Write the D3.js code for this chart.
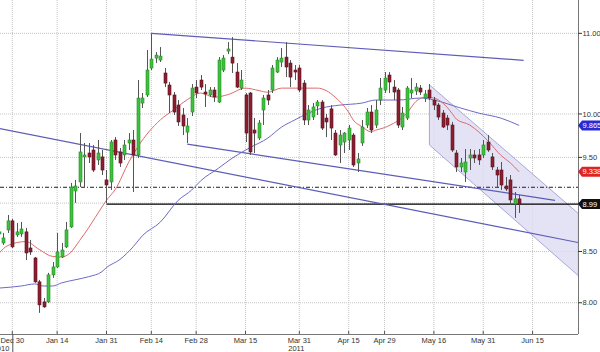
<!DOCTYPE html>
<html lang="en">
<head>
    <meta charset="utf-8">
    <script src="https://d3js.org/d3.v7.min.js"></script>
    <style>
        body { margin: 0; background: #fff; }
        text { font-family: "Liberation Sans", Arial, sans-serif; font-size: 7.5px; fill: #333; }
        .grid line { stroke: #c4c4c4; stroke-dasharray: 1,1; }
        .trend { stroke: #5c5cb8; stroke-width: 1.2; fill: none; }
    </style>
</head>
<body>
<svg width="600" height="352"></svg>
<script>
    // trading day index 0 = Dec 30 2010, first candle at -3
    var firstIdx = -3;
    var opens = [8.678, 8.586, 8.719, 8.813, 8.668, 8.678, 8.699, 8.535, 8.435, 8.20,
        8.008, 8.008, 8.268, 8.346, 8.445, 8.546, 8.75, 9.13, 9.228, 9.505,
        9.549, 9.583, 9.471, 9.505, 9.25, 9.228, 9.697, 9.561, 9.527, 9.663,
        9.697, 9.527, 10.13, 10.227, 10.558, 10.683, 10.658, 10.496, 10.348, 10.227,
        10.106, 9.988, 9.788, 10.023, 10.323, 10.409, 10.263, 10.227, 10.287, 10.142,
        10.533, 10.772, 10.695, 10.508, 10.311, 10.227, 10.251, 9.812, 9.72, 10.047,
        10.227, 10.287, 10.508, 10.633, 10.695, 10.62, 10.533, 10.558, 10.372, 9.929,
        9.964, 10.095, 10.142, 9.952, 10.06, 9.777, 9.64, 9.674, 9.697, 9.754,
        9.437, 9.663, 9.87, 10.023, 9.87, 10.166, 10.287, 10.471, 10.323, 10.287,
        9.847, 9.952, 10.251, 10.275, 10.311, 10.19, 10.287, 10.166, 10.106, 10.011,
        9.952, 9.87, 9.549, 9.393, 9.337, 9.493, 9.527, 9.527, 9.527, 9.674,
        9.505, 9.359, 9.359, 9.184, 9.25, 8.991, 9.045];
    var highs = [8.719, 8.688, 8.875, 8.833, 8.792, 8.802, 8.740, 8.617, 8.445, 8.219,
        8.046, 8.288, 8.395, 8.688, 8.586, 8.802, 9.217, 9.25, 9.777, 9.663,
        9.663, 9.64, 9.697, 9.583, 9.359, 9.697, 9.731, 9.606, 9.697, 9.777,
        9.812, 10.409, 10.251, 10.785, 11.00, 10.76, 10.823, 10.558, 10.385, 10.263,
        10.166, 10.071, 9.952, 10.36, 10.409, 10.471, 10.36, 10.323, 10.323, 10.695,
        10.721, 10.887, 10.951, 10.62, 10.533, 10.251, 10.263, 9.952, 9.929, 10.227,
        10.287, 10.596, 10.695, 10.81, 10.887, 10.658, 10.596, 10.596, 10.409, 10.106,
        10.13, 10.166, 10.166, 10.0, 10.106, 9.812, 9.812, 9.788, 9.87, 9.777,
        9.549, 9.929, 10.071, 10.106, 10.166, 10.434, 10.508, 10.508, 10.409, 10.311,
        10.083, 10.335, 10.434, 10.372, 10.348, 10.287, 10.36, 10.203, 10.13, 10.047,
        9.988, 9.906, 9.583, 9.493, 9.594, 9.594, 9.583, 9.594, 9.697, 9.754,
        9.549, 9.393, 9.448, 9.282, 9.304, 9.119, 9.087];
    var lows = [8.627, 8.566, 8.688, 8.535, 8.648, 8.648, 8.415, 8.465, 8.19, 7.905,
        7.952, 7.999, 8.239, 8.336, 8.435, 8.535, 8.74, 9.002, 9.173, 9.173,
        9.437, 9.337, 9.415, 9.304, 9.00, 9.141, 9.471, 9.393, 9.471, 9.583,
        9.119, 9.493, 10.07, 10.203, 10.533, 10.62, 10.633, 10.323, 10.011, 9.988,
        9.859, 9.754, 9.663, 9.976, 10.19, 10.287, 10.083, 10.203, 10.142, 10.13,
        10.508, 10.734, 10.496, 10.311, 10.287, 9.674, 9.527, 9.549, 9.697, 9.87,
        10.106, 10.251, 10.496, 10.571, 10.446, 10.323, 10.409, 10.263, 9.87, 9.87,
        9.929, 9.988, 9.812, 9.73, 9.697, 9.516, 9.437, 9.549, 9.583, 9.393,
        9.337, 9.629, 9.835, 9.777, 9.835, 10.106, 10.251, 10.251, 10.166, 9.835,
        9.812, 9.929, 10.19, 10.227, 10.227, 10.142, 10.166, 10.047, 9.929, 9.835,
        9.812, 9.561, 9.337, 9.337, 9.228, 9.359, 9.437, 9.415, 9.493, 9.561,
        9.359, 9.173, 9.141, 9.13, 8.98, 8.844, 8.896];
    var closes = [8.699, 8.637, 8.813, 8.546, 8.699, 8.729, 8.485, 8.495, 8.20, 7.98,
        7.961, 8.268, 8.346, 8.495, 8.515, 8.719, 9.173, 9.184, 9.561, 9.527,
        9.505, 9.359, 9.549, 9.359, 9.195, 9.674, 9.527, 9.437, 9.64, 9.697,
        9.527, 10.19, 10.19, 10.533, 10.67, 10.721, 10.708, 10.372, 10.227, 10.023,
        9.906, 9.859, 9.859, 10.311, 10.251, 10.323, 10.239, 10.287, 10.203, 10.658,
        10.683, 10.798, 10.62, 10.323, 10.409, 9.777, 9.561, 9.777, 9.894, 10.19,
        10.166, 10.558, 10.658, 10.683, 10.571, 10.446, 10.508, 10.287, 9.929, 10.047,
        10.083, 10.142, 9.835, 9.906, 9.835, 9.527, 9.754, 9.777, 9.835, 9.415,
        9.482, 9.847, 10.023, 9.812, 10.047, 10.311, 10.434, 10.385, 10.263, 9.87,
        10.011, 10.311, 10.287, 10.323, 10.263, 10.239, 10.19, 10.106, 9.964, 9.847,
        9.87, 9.583, 9.393, 9.437, 9.448, 9.527, 9.493, 9.471, 9.64, 9.583,
        9.393, 9.304, 9.195, 9.152, 9.034, 9.045, 8.99];

    // moving averages, read at selected days
    var redIdx = [-3, -1, 3, 6, 9, 11, 13, 15, 17, 20, 21, 23, 26, 28, 33, 36, 39, 42, 45, 48,
        52, 55, 57, 60, 64, 68, 70, 72, 75, 76, 78, 80, 81, 83, 85, 86, 88, 90, 92, 94,
        96, 98, 99, 102, 104, 106, 109, 111, 113];
    var redVals = [8.48, 8.56, 8.60, 8.52, 8.45, 8.445, 8.49, 8.61, 8.74, 8.96, 9.03, 9.15, 9.45, 9.62,
        9.93, 10.05, 10.17, 10.25, 10.20, 10.23, 10.31, 10.28, 10.26, 10.31, 10.31, 10.31, 10.28,
        10.20, 10.02, 9.93, 9.85, 9.79, 9.81, 9.84, 9.89, 9.92, 10.01, 10.15, 10.20, 10.19, 10.13,
        10.01, 9.94, 9.87, 9.79, 9.69, 9.52, 9.44, 9.3389];
    var blueIdx = [-3, 2, 5, 7, 9, 11, 14, 17, 20, 21, 24, 27, 29, 33, 37, 40, 42, 46, 49, 53,
        57, 60, 63, 66, 69, 73, 78, 81, 86, 91, 94, 100, 104, 109, 113];
    var blueVals = [8.14, 8.16, 8.18, 8.16, 8.16, 8.19, 8.22, 8.25, 8.30, 8.34, 8.42, 8.55, 8.66,
        8.80, 9.03, 9.14, 9.24, 9.38, 9.49, 9.61, 9.72, 9.845, 9.93, 10.01, 10.07, 10.105, 10.13,
        10.166, 10.166, 10.19, 10.166, 10.07, 10.01, 9.95, 9.8657];

    // drawn trend lines [idx, price] pairs
    var trendLines = [
        [[31, 11.00], [114, 10.655]],
        [[39, 9.65], [121, 9.03]],
        [[-3, 9.83], [126.2, 8.59]]
    ];
    var channelTop = [[93, 10.35], [126.2, 8.89]];
    var channelBottom = [[93, 9.64], [126.2, 8.26]];
    var supportLevel = 8.99, supportStart = 21;
    var dashLevel = 9.17;

    var tickIdx = [0, 10, 21, 31, 41, 52, 64, 75, 83, 94, 105, 116];
    var tickLabels = ["Dec 30", "Jan 14", "Jan 31", "Feb 14", "Feb 28", "Mar 15", "Mar 31", "Apr 15", "Apr 29", "May 16", "May 31", "Jun 15"];
    var priceTicks = [8.00, 8.50, 9.00, 9.50, 10.00, 11.00];
    var lastTags = [
        { v: 9.8657, fill: "#2a2ad2", text: "9.8657" },
        { v: 9.3389, fill: "#e02424", text: "9.3389" },
        { v: 8.99, fill: "#111", text: "8.99" }
    ];

    var svg = d3.select("svg"),
        plotW = 578, plotH = 334;

    var x = d3.scaleLinear().domain([-2.742, 126.13]).range([0, plotW]);
    var y = d3.scaleLog().domain([7.71, 11.442]).range([plotH, 0]);

    svg.append("clipPath").attr("id", "clip")
        .append("rect").attr("width", plotW).attr("height", plotH);

    //grid
    var grid = svg.append("g").attr("class", "grid");
    grid.selectAll(".vg").data(tickIdx).enter().append("line")
        .attr("x1", function (d) { return x(d); }).attr("x2", function (d) { return x(d); })
        .attr("y1", 0).attr("y2", plotH);
    grid.selectAll(".hg").data(priceTicks).enter().append("line")
        .attr("x1", 0).attr("x2", plotW)
        .attr("y1", function (d) { return y(d); }).attr("y2", function (d) { return y(d); });

    var g = svg.append("g").attr("clip-path", "url(#clip)");

    //channel
    var chan = [channelTop[0], channelTop[1], channelBottom[1], channelBottom[0]];
    g.append("path")
        .attr("d", "M" + chan.map(function (p) { return x(p[0]) + "," + y(p[1]); }).join("L") + "Z")
        .attr("fill", "#dcdcf2").attr("fill-opacity", 0.8)
        .attr("stroke", "#a8a8d8").attr("stroke-width", 1);

    //levels
    g.append("line").attr("x1", 0).attr("x2", plotW)
        .attr("y1", y(dashLevel)).attr("y2", y(dashLevel))
        .attr("stroke", "#222").attr("stroke-width", 1).attr("stroke-dasharray", "4,2,1,2");
    g.append("line").attr("x1", x(supportStart)).attr("x2", plotW)
        .attr("y1", y(supportLevel)).attr("y2", y(supportLevel))
        .attr("stroke", "#000").attr("stroke-width", 1.3);

    //trend lines
    g.selectAll(".trend").data(trendLines).enter().append("line")
        .attr("class", "trend")
        .attr("x1", function (d) { return x(d[0][0]); }).attr("y1", function (d) { return y(d[0][1]); })
        .attr("x2", function (d) { return x(d[1][0]); }).attr("y2", function (d) { return y(d[1][1]); });

    //moving averages
    var line = d3.line().curve(d3.curveMonotoneX)
        .x(function (d) { return x(d[0]); }).y(function (d) { return y(d[1]); });
    g.append("path").datum(d3.zip(blueIdx, blueVals)).attr("d", line)
        .attr("fill", "none").attr("stroke", "#6b6bc8").attr("stroke-width", 1);
    g.append("path").datum(d3.zip(redIdx, redVals)).attr("d", line)
        .attr("fill", "none").attr("stroke", "#e06a6a").attr("stroke-width", 1);

    //candles
    var candles = opens.map(function (o, k) {
        return { i: firstIdx + k, o: o, h: highs[k], l: lows[k], c: closes[k] };
    });
    var cg = g.selectAll(".candle").data(candles).enter().append("g");
    cg.append("line")
        .attr("x1", function (d) { return Math.round(x(d.i)) + 0.5; })
        .attr("x2", function (d) { return Math.round(x(d.i)) + 0.5; })
        .attr("y1", function (d) { return y(d.h); }).attr("y2", function (d) { return y(d.l); })
        .attr("stroke", "#555").attr("stroke-width", 1);
    cg.append("rect")
        .attr("x", function (d) { return Math.round(x(d.i)) - 1; })
        .attr("width", 3)
        .attr("y", function (d) { return y(Math.max(d.o, d.c)); })
        .attr("height", function (d) { return Math.max(1, Math.abs(y(d.o) - y(d.c))); })
        .attr("fill", function (d) { return d.c >= d.o ? "#3cc23c" : "#8a1f30"; })
        .attr("stroke", function (d) { return d.c >= d.o ? "#2a8a2a" : "#5a1020"; })
        .attr("stroke-width", 0.6);

    //right axis
    svg.append("line").attr("x1", plotW + 0.5).attr("x2", plotW + 0.5).attr("y1", 0).attr("y2", plotH)
        .attr("stroke", "#777");
    var ra = svg.append("g");
    ra.selectAll("line").data(priceTicks).enter().append("line")
        .attr("x1", plotW).attr("x2", plotW + 4)
        .attr("y1", function (d) { return y(d); }).attr("y2", function (d) { return y(d); })
        .attr("stroke", "#333");
    ra.selectAll("text").data(priceTicks).enter().append("text")
        .attr("x", plotW + 4.5).attr("y", function (d) { return y(d); }).attr("dy", "0.35em")
        .text(function (d) { return d.toFixed(2); });

    var tags = svg.selectAll(".tag").data(lastTags).enter().append("g");
    tags.append("path")
        .attr("d", function (d) {
            var c = y(d.v);
            return "M" + plotW + "," + c + "L" + (plotW + 4) + "," + (c - 5) + "L600," + (c - 5) +
                "L600," + (c + 5) + "L" + (plotW + 4) + "," + (c + 5) + "Z";
        })
        .attr("fill", function (d) { return d.fill; });
    tags.append("text")
        .attr("x", plotW + 4.5).attr("y", function (d) { return y(d.v); }).attr("dy", "0.35em")
        .style("fill", "#fff")
        .text(function (d) { return d.text; });

    //bottom axis
    svg.append("line").attr("x1", 0).attr("x2", plotW).attr("y1", plotH + 0.5).attr("y2", plotH + 0.5)
        .attr("stroke", "#777");
    var ba = svg.append("g");
    ba.selectAll("line").data(tickIdx).enter().append("line")
        .attr("x1", function (d) { return x(d); }).attr("x2", function (d) { return x(d); })
        .attr("y1", plotH - 3).attr("y2", plotH)
        .attr("stroke", "#555");
    ba.selectAll("text").data(tickIdx).enter().append("text")
        .attr("x", function (d) { return x(d); }).attr("y", plotH + 8.5)
        .attr("text-anchor", "middle")
        .text(function (d, k) { return tickLabels[k]; });
    svg.append("line").attr("x1", x(0) + 0.5).attr("x2", x(0) + 0.5).attr("y1", plotH).attr("y2", 352)
        .attr("stroke", "#555");
    svg.append("text").attr("x", x(0) - 3).attr("y", plotH + 17).attr("text-anchor", "end").text("2010");
    svg.append("text").attr("x", x(64) - 3).attr("y", plotH + 17).attr("text-anchor", "middle").text("2011");
</script>
</body>
</html>
